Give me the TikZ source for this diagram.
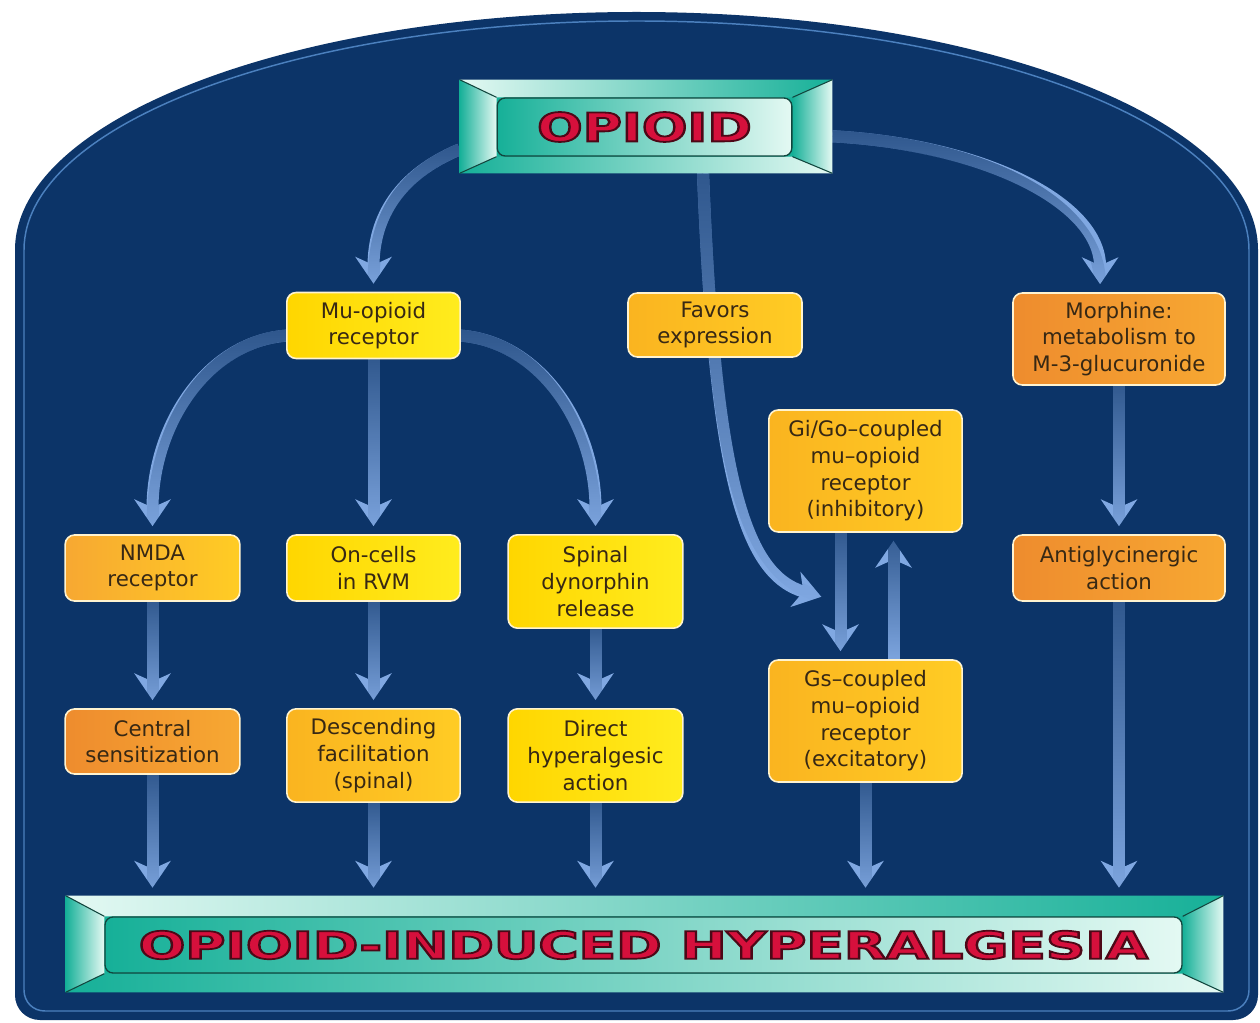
\documentclass[tikz,border=0pt]{standalone}
\usepackage{fontspec}
\newfontfamily\boxfont{DejaVu Sans}
\newfontfamily\titlefont{DejaVu Sans}
\usetikzlibrary{arrows.meta,calc,fadings}

\pgfdeclarelayer{bg}
\pgfdeclarelayer{background}
\pgfdeclarelayer{frames}
\pgfsetlayers{bg,background,frames,main}

\definecolor{navy}{RGB}{12,52,104}
\definecolor{rimblue}{RGB}{75,128,190}
\definecolor{flowblue}{RGB}{128,168,226}
\definecolor{tealbev}{RGB}{22,176,152}
\definecolor{tealpale}{RGB}{228,249,243}
\definecolor{bevdark}{RGB}{18,70,62}
\definecolor{titlered}{RGB}{214,16,60}
\definecolor{boxtext}{RGB}{55,40,20}
\definecolor{boxrim}{RGB}{255,243,208}
\definecolor{yelA}{RGB}{255,214,0}
\definecolor{yelB}{RGB}{255,236,30}
\definecolor{golA}{RGB}{250,180,32}
\definecolor{golB}{RGB}{255,204,36}
\definecolor{orgA}{RGB}{238,140,46}
\definecolor{orgB}{RGB}{247,168,50}

\tikzfading[name=fadestart, top color=transparent!30, bottom color=transparent!100]

% red title letters with a dark edge (fill and stroke)
\newcommand{\titletext}[3]{\resizebox{#2}{#3}{\titlefont\bfseries\color{titlered}%
  \special{pdf:literal direct 0.30 0.03 0.09 RG 0.45 w 2 Tr}#1\special{pdf:literal direct 0 Tr}}}

\begin{document}
\begin{tikzpicture}[x=0.75pt,y=0.75pt,yscale=-1,xscale=1,
  box/.style={rounded corners=7pt, draw=boxrim, line width=1.2pt, text=boxtext, align=center,
    font=\boxfont\fontsize{16}{20}\selectfont, inner sep=0pt},
  ybox/.style={box, left color=yelA, right color=yelB},
  gbox/.style={box, left color=golA, right color=golB},
  obox/.style={box, left color=orgA, right color=orgB},
  flow/.style={line width=9pt, draw=flowblue, -{Stealth[length=20pt,width=27pt,inset=6pt]}, shorten >=6pt,
    postaction={draw=navy, -, path fading=fadestart}},
  panel/.style={rounded corners=6pt, draw=bevdark, line width=1pt, left color=tealbev, right color=tealpale, inner sep=0pt},
  titleframe/.style={inner sep=0pt},
  bevelline/.style={draw=bevdark, line width=0.8pt}]
\useasboundingbox (0,0) rectangle (1260,1023);

% background arch
\begin{pgfonlayer}{bg}
\fill[white] (0,0) rectangle (1260,1023);
\fill[navy] (15,250) .. controls (15,118.6) and (293.3,12) .. (636.5,12) .. controls (979.7,12) and (1258,118.6) .. (1258,250)
  -- (1258,995) .. controls (1258,1009) and (1247,1020) .. (1233,1020) -- (40,1020) .. controls (26,1020) and (15,1009) .. (15,995) -- cycle;
\draw[rimblue, line width=1.1pt] (24,250) .. controls (24,123.5) and (298.2,21) .. (636.5,21) .. controls (974.8,21) and (1249,123.5) .. (1249,250)
  -- (1249,990) .. controls (1249,1002) and (1240,1011) .. (1228,1011) -- (45,1011) .. controls (33,1011) and (24,1002) .. (24,990) -- cycle;
\end{pgfonlayer}

% title bars
\node[titleframe, minimum width=279pt, minimum height=69.75pt] (opioidframe) at (646,126.5) {};
\node[panel, minimum width=221pt, minimum height=43.5pt] (opioid) at (644.5,127) {\titletext{OPIOID}{161pt}{22pt}};
\node[titleframe, minimum width=867.75pt, minimum height=72pt] (hyperframe) at (644.5,944) {};
\node[panel, minimum width=807.75pt, minimum height=42pt] (hyper) at (643.5,945) {\titletext{OPIOID-INDUCED HYPERALGESIA}{757pt}{21pt}};

% boxes
\node[ybox, minimum width=130pt, minimum height=49.5pt] (mu) at (373.5,325.5) {Mu-opioid\\receptor};
\node[gbox, minimum width=130.5pt, minimum height=48pt] (favors) at (715,325) {Favors\\expression};
\node[obox, minimum width=159pt, minimum height=69pt] (morphine) at (1119,339) {Morphine:\\metabolism to\\M-3-glucuronide};
\node[gbox, minimum width=145pt, minimum height=91.5pt] (gi) at (865.5,471) {Gi/Go–coupled\\mu–opioid\\receptor\\(inhibitory)};
\node[obox, left color=orgB, right color=golB, minimum width=131pt, minimum height=49.5pt] (nmda) at (152.5,568) {NMDA\\receptor};
\node[ybox, minimum width=130pt, minimum height=49.5pt] (oncells) at (373.5,568) {On-cells\\in RVM};
\node[ybox, minimum width=131pt, minimum height=70pt] (spinal) at (595.5,581.5) {Spinal\\dynorphin\\release};
\node[obox, minimum width=159pt, minimum height=49.5pt] (antig) at (1119,568) {Antiglycinergic\\action};
\node[gbox, minimum width=145pt, minimum height=91.5pt] (gs) at (865.5,721) {Gs–coupled\\mu–opioid\\receptor\\(excitatory)};
\node[obox, minimum width=131pt, minimum height=48.75pt] (central) at (152.5,741.5) {Central\\sensitization};
\node[gbox, minimum width=130pt, minimum height=70pt] (descending) at (373.5,755.5) {Descending\\facilitation\\(spinal)};
\node[ybox, minimum width=131pt, minimum height=70pt] (direct) at (595.5,755.5) {Direct\\hyperalgesic\\action};

\coordinate (favtip) at (829,599);

% bevels round the title panels
\begin{pgfonlayer}{frames}
\foreach \f/\p in {opioidframe/opioid, hyperframe/hyper} {
  \fill[tealbev] (\f.north west) rectangle (\f.south east);
  \shade[left color=tealpale, right color=tealbev] (\f.north west) -- (\f.north east) -- (\p.north east) -- (\p.north west) -- cycle;
  \shade[left color=tealbev, right color=tealpale] (\f.south west) -- (\f.south east) -- (\p.south east) -- (\p.south west) -- cycle;
  \shade[left color=tealbev, right color=tealpale] (\f.north west) -- (\p.north west) -- (\p.south west) -- (\f.south west) -- cycle;
  \shade[left color=tealbev, right color=tealpale] (\p.north east) -- (\f.north east) -- (\f.south east) -- (\p.south east) -- cycle;
  \draw[bevelline] (\f.north west) -- (\p.north west) (\f.north east) -- (\p.north east)
    (\f.south west) -- (\p.south west) (\f.south east) -- (\p.south east);
}
\end{pgfonlayer}

% connectors
\begin{pgfonlayer}{background}
\draw[flow] (opioidframe.187) .. controls +(-60,25) and +(0,-75) .. (mu.north);
\draw[flow] (opioidframe.357) .. controls +(150,8) and +(0,-90) .. (morphine.112);
\draw[flow] ($(opioidframe.south)+(57,0)$) .. controls +(12,307) and +(-84,-24) .. (favtip);
\draw[flow] ($(mu.west)+(2,10)$) .. controls +(-80,5) and +(0,-110) .. (nmda.north);
\draw[flow] ($(mu.east)+(-2,10)$) .. controls +(80,5) and +(0,-110) .. (spinal.north);
\draw[flow] (mu) -- (oncells);
\draw[flow] (nmda) -- (central);
\draw[flow] (oncells) -- (descending);
\draw[flow] (spinal) -- (direct);
\draw[flow] (morphine) -- (antig);
\draw[flow] ($(gi.south)+(-25,0)$) -- ($(gs.north)+(-25,0)$);
\draw[flow] ($(gs.north)+(28,0)$) -- ($(gi.south)+(28,0)$);
\foreach \b in {central, descending, direct, gs, antig}
  \draw[flow] (\b) -- (\b |- hyperframe.north);
\end{pgfonlayer}
\end{tikzpicture}
\end{document}
